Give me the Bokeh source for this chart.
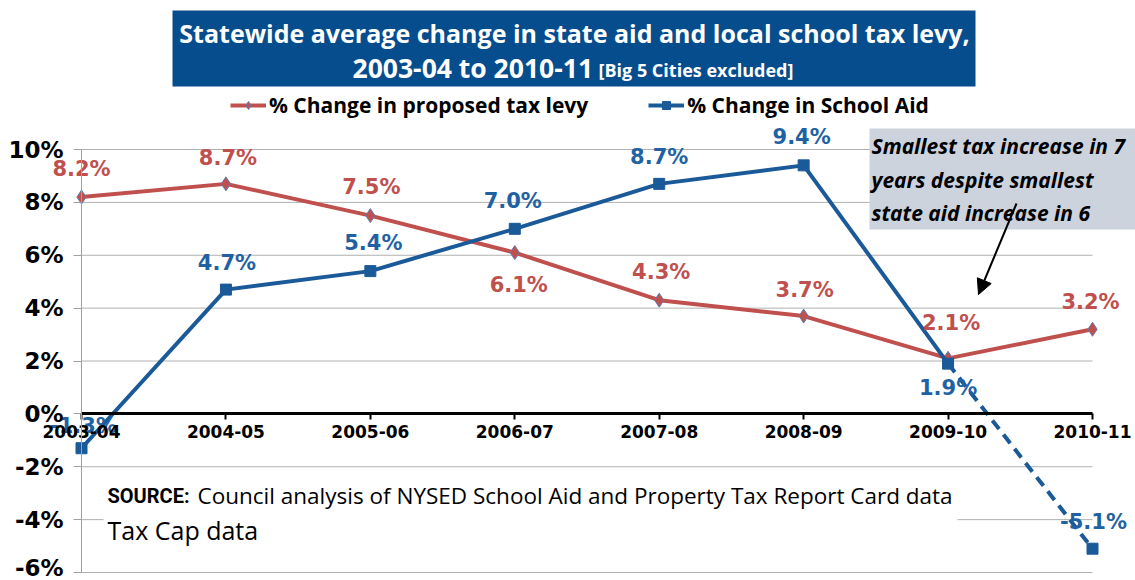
from bokeh.plotting import figure
from bokeh.models import (Range1d, LinearAxis, FixedTicker, PrintfTickFormatter,
                          ColumnDataSource, Legend, LegendItem, Arrow, NormalHead)
from bokeh.core.properties import value
from bokeh.embed import file_html
from bokeh.resources import INLINE

# ---------------- data ----------------
categories = ["2003-04", "2004-05", "2005-06", "2006-07", "2007-08", "2008-09", "2009-10", "2010-11"]
tax_levy_change = [8.2, 8.7, 7.5, 6.1, 4.3, 3.7, 2.1, 3.2]
school_aid_change = [-1.3, 4.7, 5.4, 7.0, 8.7, 9.4, 1.9, -5.1]
y_ticks = [-6, -4, -2, 0, 2, 4, 6, 8, 10]
series_names = ["% Change in proposed tax levy", "% Change in School Aid"]
title_line1 = "Statewide average change in state aid and local school tax levy,"
title_line2a = "2003-04 to 2010-11"
title_line2b = "[Big 5 Cities excluded]"
note_lines = ["Smallest tax increase in 7", "years despite smallest", "state aid increase in 6"]
source_bold = "SOURCE:"
source_rest = "Council analysis of NYSED School Aid and Property Tax Report Card data"
source_line2 = "Tax Cap data"

# label offsets (screen px) - layout only
tax_dx = [0, 2, 1, 4, 2, 1, 3, -2]
tax_dy = [-28, -26, -29, 32, -28, -26, -35, -27]
aid_dx = [2, 1, 3, -2, 0, -2, 0, 1]
aid_dy = [-22, -27, -28, -28, -27, -28, 24, -27]

# ---------------- layout ----------------
W, H = 1135, 580
X0, X7 = 81.0, 1092.0      # pixel of first / last category
Y10, YM6 = 149.0, 572.0    # pixel of 10% / -6%
n = len(categories)
sxp = (X7 - X0) / (n - 1)
syp = (YM6 - Y10) / 16.0

def px_x(px):
    return (px - X0) / sxp

def px_y(py):
    return 10 - (py - Y10) / syp

RED = "#C0504D"
BLUE = "#1B5A99"
BLUE_TXT = "#1F62A3"

p = figure(width=W, height=H, output_backend="svg", toolbar_location=None,
           x_range=Range1d(px_x(0), px_x(W)), y_range=Range1d(px_y(H), px_y(0)),
           x_axis_type=None, y_axis_type=None,
           min_border=0, min_border_left=0, min_border_right=0,
           min_border_top=0, min_border_bottom=0)
p.outline_line_color = None
p.background_fill_color = "white"
p.border_fill_color = "white"
p.xgrid.visible = False
p.ygrid.visible = False

xs = list(range(n))

# ---- gridlines ----
grid_levels = [t for t in y_ticks if t != 0]
p.segment(x0=[0] * len(grid_levels), y0=grid_levels, x1=[n - 1] * len(grid_levels), y1=grid_levels,
          line_color="#B0B0B0", line_width=1)

# ---- axes ----
yaxis = LinearAxis(fixed_location=0, bounds=(y_ticks[0], y_ticks[-1]),
                   ticker=FixedTicker(ticks=y_ticks), formatter=PrintfTickFormatter(format="%d%%"))
yaxis.axis_line_color = "#A0A0A0"
yaxis.axis_line_width = 1
yaxis.major_tick_line_color = "#A0A0A0"
yaxis.major_tick_out = 8
yaxis.major_tick_in = 0
yaxis.minor_tick_line_color = None
yaxis.major_label_standoff = 10
yaxis.major_label_text_font = "DejaVu Sans"
yaxis.major_label_text_font_style = "bold"
yaxis.major_label_text_font_size = "23px"
yaxis.major_label_text_color = "black"
p.add_layout(yaxis, "left")

xaxis = LinearAxis(fixed_location=0, bounds=(0, n - 1), ticker=FixedTicker(ticks=xs),
                   major_label_overrides={i: c for i, c in enumerate(categories)})
xaxis.axis_line_color = "black"
xaxis.axis_line_width = 3
xaxis.major_tick_line_color = "black"
xaxis.major_tick_line_width = 2
xaxis.major_tick_out = 6
xaxis.major_tick_in = 0
xaxis.minor_tick_line_color = None
xaxis.major_label_standoff = 5
xaxis.major_label_text_font = "DejaVu Sans"
xaxis.major_label_text_font_style = "bold"
xaxis.major_label_text_font_size = "17px"
xaxis.major_label_text_color = "black"
p.add_layout(xaxis, "below")

# ---- source box ----
p.quad(left=[px_x(103)], right=[px_x(957)], top=[px_y(478)], bottom=[px_y(546)],
       fill_color="white", line_color=None)
p.text(x=[px_x(107)], y=[px_y(495)], text=[source_bold], text_font=value("Roboto"),
       text_font_style="bold", text_font_size=value("20px"), text_color="black",
       text_align="left", text_baseline="middle")
p.text(x=[px_x(197)], y=[px_y(495)], text=[source_rest], text_font=value("Open Sans"),
       text_font_size=value("22.5px"), text_color="black",
       text_align="left", text_baseline="middle")
p.text(x=[px_x(107)], y=[px_y(529)], text=[source_line2], text_font=value("Open Sans"),
       text_font_size=value("25px"), text_color="black",
       text_align="left", text_baseline="middle")

# ---- title box ----
p.quad(left=[px_x(172)], right=[px_x(975)], top=[px_y(10)], bottom=[px_y(86)],
       fill_color="#064D8E", line_color=None)
p.text(x=[px_x(574)], y=[px_y(32)], text=[title_line1], text_font=value("Open Sans"),
       text_font_style="bold", text_font_size=value("25px"), text_color="white",
       text_align="center", text_baseline="middle")
p.text(x=[px_x(352)], y=[px_y(67)], text=[title_line2a], text_font=value("Open Sans"),
       text_font_style="bold", text_font_size=value("26.5px"), text_color="white",
       text_align="left", text_baseline="middle")
p.text(x=[px_x(598)], y=[px_y(69)], text=[title_line2b], text_font=value("Open Sans"),
       text_font_style="bold", text_font_size=value("18px"), text_color="white",
       text_align="left", text_baseline="middle")

# ---- note box ----
p.quad(left=[px_x(869)], right=[px_x(W)], top=[px_y(128)], bottom=[px_y(229)],
       fill_color="#CCD3DD", line_color=None)
p.text(x=[px_x(871)] * 3, y=[px_y(145), px_y(179), px_y(212)], text=note_lines,
       text_font=value("Open Sans"), text_font_style="bold italic", text_font_size=value("21px"),
       text_color="black", text_align="left", text_baseline="middle")

# ---- series ----
red_line = p.line(xs, tax_levy_change, line_color=RED, line_width=4)
red_pts = p.scatter(xs, tax_levy_change, marker="diamond", size=14, fill_color=RED,
                    line_color="#5B7FB5", line_width=1)

blue_line = p.line(xs[:-1], school_aid_change[:-1], line_color=BLUE, line_width=4)
p.line(xs[-2:], school_aid_change[-2:], line_color=BLUE, line_width=4, line_dash="11 7")
blue_pts = p.scatter(xs, school_aid_change, marker="square", size=11, fill_color=BLUE,
                     line_color=BLUE)

# ---- data labels ----
tax_src = ColumnDataSource(dict(x=xs, y=tax_levy_change,
                                t=[f"{v:.1f}%" for v in tax_levy_change], dx=tax_dx, dy=tax_dy))
aid_src = ColumnDataSource(dict(x=xs, y=school_aid_change,
                                t=[f"{v:.1f}%" for v in school_aid_change], dx=aid_dx, dy=aid_dy))
p.text(x="x", y="y", text="t", x_offset="dx", y_offset="dy", source=tax_src,
       text_font=value("DejaVu Sans"), text_font_style="bold", text_font_size=value("21px"),
       text_color=RED, text_align="center", text_baseline="middle")
p.text(x="x", y="y", text="t", x_offset="dx", y_offset="dy", source=aid_src,
       text_font=value("DejaVu Sans"), text_font_style="bold", text_font_size=value("21px"),
       text_color=BLUE_TXT, text_align="center", text_baseline="middle")

# ---- arrow ----
p.add_layout(Arrow(end=NormalHead(size=15, fill_color="black", line_color="black"),
                   x_start=px_x(1016), y_start=px_y(203), x_end=px_x(978), y_end=px_y(294),
                   line_color="black", line_width=2))

# ---- legend ----
legend = Legend(items=[LegendItem(label=series_names[0], renderers=[red_line, red_pts]),
                       LegendItem(label=series_names[1], renderers=[blue_line, blue_pts])],
                orientation="horizontal", location=(230, H - 119))
legend.background_fill_alpha = 0
legend.border_line_color = None
legend.padding = 0
legend.margin = 0
legend.spacing = 60
legend.glyph_width = 36
legend.glyph_height = 20
legend.label_height = 20
legend.label_standoff = 3
legend.label_text_font = "Open Sans"
legend.label_text_font_style = "bold"
legend.label_text_font_size = "21px"
legend.label_text_color = "black"
legend.label_text_baseline = "middle"
p.add_layout(legend, "center")

open("out.html", "w").write(file_html(p, INLINE))
